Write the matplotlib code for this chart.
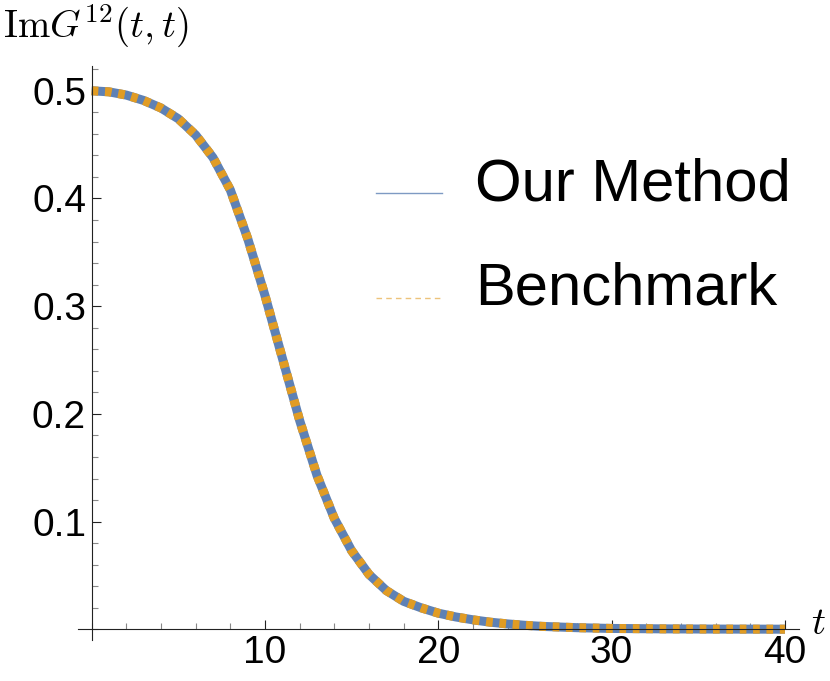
import numpy as np
import matplotlib
matplotlib.use('Agg')
import matplotlib.pyplot as plt
from matplotlib.lines import Line2D
from matplotlib.ticker import MultipleLocator, FixedLocator

# values
t = [0, 1, 2, 3, 4, 5, 6, 7, 8, 9, 10, 11, 12, 13, 14, 15, 16, 17, 18, 19, 20,
     21, 22, 23, 24, 25, 26, 28, 30, 33, 36, 40]
our_method = [0.500, 0.499, 0.496, 0.491, 0.484, 0.474, 0.459, 0.438, 0.408, 0.363,
              0.310, 0.252, 0.194, 0.143, 0.103, 0.073, 0.051, 0.036, 0.026, 0.020,
              0.015, 0.0115, 0.0088, 0.0066, 0.0050, 0.0037, 0.0027, 0.0015, 0.0008,
              0.0004, 0.0002, 0.0001]
benchmark = [0.500, 0.499, 0.496, 0.491, 0.484, 0.474, 0.459, 0.438, 0.408, 0.363,
             0.310, 0.252, 0.194, 0.143, 0.103, 0.073, 0.051, 0.036, 0.026, 0.020,
             0.015, 0.0115, 0.0088, 0.0066, 0.0050, 0.0037, 0.0027, 0.0015, 0.0008,
             0.0004, 0.0002, 0.0001]
labels = ['Our Method', 'Benchmark']
xticks = [10, 20, 30, 40]
yticks = [0.1, 0.2, 0.3, 0.4, 0.5]

blue = '#5E81B5'
orange = '#E19C24'

plt.rcParams['font.family'] = ['Liberation Sans', 'DejaVu Sans']
plt.rcParams['mathtext.fontset'] = 'cm'

fig = plt.figure(figsize=(8.3, 6.81), dpi=100)
ax = fig.add_axes([0.0937, 0.0601, 0.8687, 0.843])

ax.plot(t, our_method, color=blue, lw=6.5, solid_capstyle='butt',
        solid_joinstyle='round', zorder=2)
ax.plot(t, benchmark, color=orange, lw=6.5, ls=(0, (0.74, 0.74)),
        dash_joinstyle='round', zorder=3)

ax.set_xlim(-0.8, 40.8)
ax.set_ylim(-0.01, 0.523)

for s in ['top', 'right']:
    ax.spines[s].set_visible(False)
for s in ['left', 'bottom']:
    ax.spines[s].set_position(('data', 0))
    ax.spines[s].set_linewidth(0.8)
    ax.spines[s].set_color('#222222')
    ax.spines[s].set_zorder(5)

ax.xaxis.set_major_locator(FixedLocator(xticks))
ax.xaxis.set_minor_locator(MultipleLocator(2))
ax.yaxis.set_major_locator(FixedLocator(yticks))
ax.yaxis.set_minor_locator(MultipleLocator(0.02))
ax.set_xticklabels([str(v) for v in xticks])
ax.set_yticklabels([str(v) for v in yticks])

ax.tick_params(which='major', direction='in', length=6.5, width=0.8, color='#222222',
               labelsize=28, pad=4)
ax.tick_params(which='minor', direction='in', length=4.3, width=0.8, color='#888888')

fig.text(0.004, 0.995, r'$\mathrm{Im}G^{12}(t,t)$', fontsize=28, va='top', ha='left')
fig.text(0.977, (681 - 624) / 681, r'$t$', fontsize=28, va='center', ha='left')

# legend drawn by hand (Mathematica style: thin sample line, big label)
leg_styles = [dict(color=blue, lw=1.0, alpha=0.8),
              dict(color=orange, lw=1.0, ls=(0, (4, 3)), alpha=0.6)]
leg_line_y = [193, 298]      # pixel rows from the top
leg_text_base = [200, 305]
for lab, st, ly, tb in zip(labels, leg_styles, leg_line_y, leg_text_base):
    fig.add_artist(Line2D([376 / 830, 442 / 830], [1 - ly / 681] * 2,
                          transform=fig.transFigure, **st))
    fig.text(475 / 830, 1 - tb / 681, lab, fontsize=43, va='baseline', ha='left')

fig.savefig('out.png', dpi=100)
